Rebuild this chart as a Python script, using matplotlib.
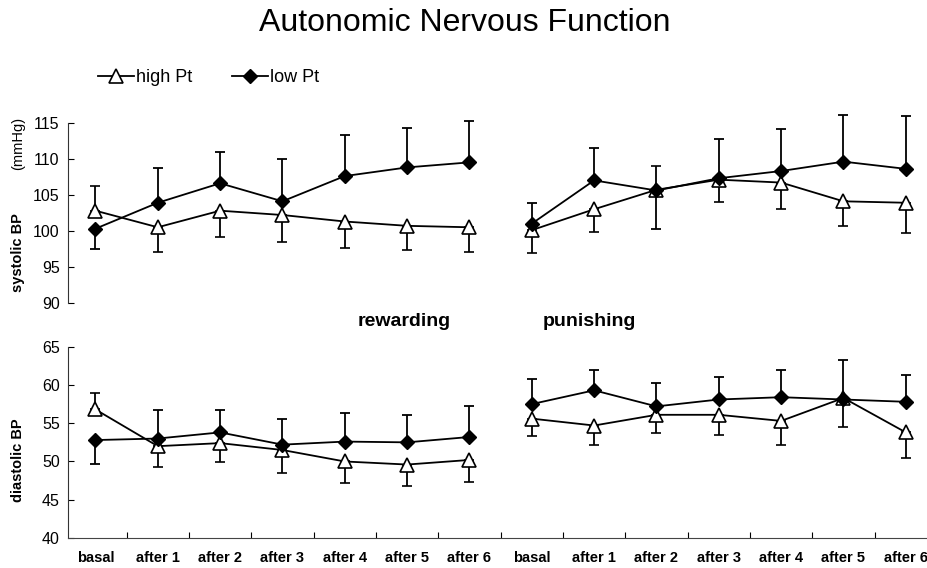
import matplotlib
matplotlib.use("Agg")
from matplotlib import pyplot as plt
from matplotlib.lines import Line2D

plt.rcParams['font.family'] = ['Liberation Sans', 'DejaVu Sans']

# x categories: rewarding block then punishing block on one axis
phases = ['basal', 'after 1', 'after 2', 'after 3', 'after 4', 'after 5', 'after 6']
labels = phases + phases

# systolic BP (mmHg); err > 0 means bar drawn upward, < 0 downward
high_sys = [102.8, 100.5, 102.8, 102.2, 101.3, 100.7, 100.5,
            100.1, 103.0, 105.7, 107.1, 106.7, 104.1, 103.9]
high_sys_err = [3.4, -3.4, -3.7, -3.8, -3.7, -3.3, -3.4,
                -3.1, -3.1, 3.3, -3.1, -3.6, -3.4, -4.2]
low_sys = [100.3, 103.9, 106.6, 104.1, 107.6, 108.8, 109.5,
           101.0, 107.0, 105.6, 107.3, 108.3, 109.6, 108.6]
low_sys_err = [-2.8, 4.8, 4.4, 5.9, 5.7, 5.5, 5.7,
               2.8, 4.5, -5.4, 5.4, 5.8, 6.4, 7.3]

# diastolic BP
high_dia = [56.8, 52.0, 52.4, 51.5, 50.0, 49.6, 50.2,
            55.6, 54.7, 56.1, 56.1, 55.3, 58.3, 53.8]
high_dia_err = [2.2, -2.7, -2.5, -3.0, -2.8, -2.8, -2.9,
                -2.3, -2.5, -2.4, -2.7, -3.1, -3.8, -3.4]
low_dia = [52.8, 53.0, 53.8, 52.2, 52.6, 52.5, 53.2,
           57.5, 59.3, 57.2, 58.1, 58.4, 58.1, 57.8]
low_dia_err = [-3.1, 3.7, 2.9, 3.4, 3.8, 3.6, 4.0,
               3.3, 2.6, 3.1, 3.0, 3.5, 5.2, 3.5]

W, H = 927, 568
fig = plt.figure(figsize=(W / 100, H / 100), dpi=100)

ax1 = fig.add_axes([68 / W, (H - 303) / H, (W - 68) / W, 180.3 / H])
ax2 = fig.add_axes([68 / W, (H - 538) / H, (W - 68) / W, 191.3 / H])

xlim = (-0.44, 13.34)
tri = dict(marker='^', markersize=10.5, markerfacecolor='white',
           markeredgecolor='black', markeredgewidth=1.2)
dia = dict(marker='D', markersize=7.5, markerfacecolor='black',
           markeredgecolor='black')


def draw(ax, vals, errs, style):
    for lo, hi in [(0, 7), (7, 14)]:
        xs = list(range(lo, hi))
        v = vals[lo:hi]
        e = errs[lo:hi]
        yerr = [[max(-x, 0) for x in e], [max(x, 0) for x in e]]
        ax.errorbar(xs, v, yerr=yerr, color='black', lw=1.3, elinewidth=1.3,
                    capsize=3.5, capthick=1.3, clip_on=False, zorder=3, **style)


draw(ax1, high_sys, high_sys_err, tri)
draw(ax1, low_sys, low_sys_err, dia)
draw(ax2, high_dia, high_dia_err, tri)
draw(ax2, low_dia, low_dia_err, dia)

for ax in (ax1, ax2):
    ax.set_xlim(*xlim)
    for s in ['top', 'right']:
        ax.spines[s].set_visible(False)
    ax.spines['left'].set_color('#333333')
    ax.tick_params(axis='y', direction='in', length=4, labelsize=11.5, pad=6)
    ax.set_xticks([i + 0.5 for i in range(13)])
    ax.set_xticks(range(14), minor=True)

ax1.set_ylim(90, 115)
ax1.set_yticks(range(90, 116, 5))
ax1.spines['bottom'].set_visible(False)
ax1.tick_params(axis='x', which='both', bottom=False, labelbottom=False)

ax2.set_ylim(40, 65)
ax2.set_yticks(range(40, 66, 5))
ax2.spines['bottom'].set_color('#444444')
ax2.tick_params(axis='x', which='major', direction='in', length=4, labelbottom=False)
ax2.tick_params(axis='x', which='minor', length=0, pad=9)
ax2.set_xticklabels(labels, minor=True, fontsize=10.5, fontweight='bold')

fig.text(465 / W, 1 - 23 / H, 'Autonomic Nervous Function', ha='center', va='center',
         fontsize=23)
fig.text(404 / W, 1 - 321 / H, 'rewarding', ha='center', va='center',
         fontsize=14, fontweight='bold')
fig.text(589 / W, 1 - 321 / H, 'punishing', ha='center', va='center',
         fontsize=14, fontweight='bold')
fig.text(18 / W, 1 - 253 / H, 'systolic BP', rotation=90, ha='center', va='center',
         fontsize=10.5, fontweight='bold')
fig.text(18 / W, 1 - 143 / H, '(mmHg)', rotation=90, ha='center', va='center',
         fontsize=10.5)
fig.text(18 / W, 1 - 460 / H, 'diastolic BP', rotation=90, ha='center', va='center',
         fontsize=10.5, fontweight='bold')

handles = [Line2D([], [], color='black', lw=1.3, **tri),
           Line2D([], [], color='black', lw=1.3, **dia)]
fig.legend(handles, ['high Pt', 'low Pt'], loc='center left',
           bbox_to_anchor=(82 / W, 1 - 78 / H), ncol=2, frameon=False,
           fontsize=13, handlelength=2.0, handletextpad=0.1, columnspacing=2.2)

fig.savefig('out.png', dpi=100)
